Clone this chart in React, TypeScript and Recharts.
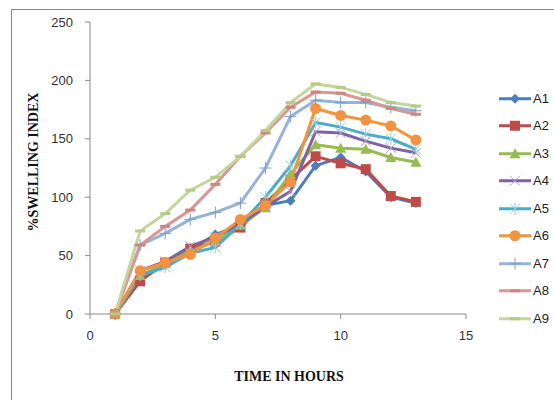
import React from 'react';
import { LineChart, Line, XAxis, YAxis, Legend, Label } from 'recharts';

const hours = [1, 2, 3, 4, 5, 6, 7, 8, 9, 10, 11, 12, 13];
const a1 = [0, 30, 42, 55, 68, 76, 93, 97, 127, 134, 122, 100, 95];
const a2 = [0, 28, 44, 56, 62, 74, 95, 115, 135, 129, 124, 101, 96];
const a3 = [0, 33, 43, 54, 62, 76, 91, 120, 145, 142, 141, 134, 130];
const a4 = [0, 37, 45, 58, 66, 77, 92, 105, 156, 155, 148, 142, 138];
const a5 = [0, 33, 40, 52, 57, 77, 100, 127, 164, 160, 154, 150, 141];
const a6 = [0, 37, 44, 51, 65, 81, 93, 113, 176, 170, 166, 161, 149];
const a7 = [0, 59, 69, 81, 87, 95, 125, 169, 183, 181, 181, 177, 174];
const a8 = [0, 59, 75, 89, 111, 135, 155, 177, 190, 189, 183, 176, 171];
const a9 = [0, 71, 86, 106, 117, 135, 157, 181, 197, 194, 188, 181, 178];

const xTicks = [0, 5, 10, 15];
const yTicks = [0, 50, 100, 150, 200, 250];

type Kind = 'diamond' | 'square' | 'triangle' | 'x' | 'star' | 'circle' | 'plus' | 'dash';

const series: { key: string; color: string; kind: Kind; mark: string }[] = [
  { key: 'A1', color: '#4A7EBB', kind: 'diamond', mark: '#4A7EBB' },
  { key: 'A2', color: '#BE4B48', kind: 'square', mark: '#BE4B48' },
  { key: 'A3', color: '#98B954', kind: 'triangle', mark: '#98B954' },
  { key: 'A4', color: '#7E62A1', kind: 'x', mark: '#B3A2C7' },
  { key: 'A5', color: '#4BACC6', kind: 'star', mark: '#93CDDD' },
  { key: 'A6', color: '#F39240', kind: 'circle', mark: '#F39240' },
  { key: 'A7', color: '#95B3D7', kind: 'plus', mark: '#7F9FCB' },
  { key: 'A8', color: '#D99694', kind: 'dash', mark: '#D08583' },
  { key: 'A9', color: '#C3D69B', kind: 'dash', mark: '#B4CC86' },
];

const values: Record<string, number[]> = { A1: a1, A2: a2, A3: a3, A4: a4, A5: a5, A6: a6, A7: a7, A8: a8, A9: a9 };

const data = hours.map((h, i) => {
  const row: Record<string, number> = { hour: h };
  series.forEach((s) => {
    row[s.key] = values[s.key][i];
  });
  return row;
});

function Marker({ kind, cx, cy, color }: { kind: Kind; cx: number; cy: number; color: string }) {
  if (cx == null || cy == null) return null;
  switch (kind) {
    case 'diamond':
      return <polygon points={`${cx},${cy - 5} ${cx + 5},${cy} ${cx},${cy + 5} ${cx - 5},${cy}`} fill={color} />;
    case 'square':
      return <rect x={cx - 5} y={cy - 5} width={10} height={10} fill={color} />;
    case 'triangle':
      return <polygon points={`${cx},${cy - 5.5} ${cx + 5.5},${cy + 4.5} ${cx - 5.5},${cy + 4.5}`} fill={color} />;
    case 'x':
      return (
        <g stroke={color} strokeWidth={1}>
          <line x1={cx - 5} y1={cy - 5} x2={cx + 5} y2={cy + 5} />
          <line x1={cx - 5} y1={cy + 5} x2={cx + 5} y2={cy - 5} />
        </g>
      );
    case 'star':
      return (
        <g stroke={color} strokeWidth={1}>
          <line x1={cx - 5} y1={cy - 5} x2={cx + 5} y2={cy + 5} />
          <line x1={cx - 5} y1={cy + 5} x2={cx + 5} y2={cy - 5} />
          <line x1={cx} y1={cy - 6} x2={cx} y2={cy + 6} />
        </g>
      );
    case 'circle':
      return <circle cx={cx} cy={cy} r={5.5} fill={color} />;
    case 'plus':
      return (
        <g stroke={color} strokeWidth={1}>
          <line x1={cx - 6} y1={cy} x2={cx + 6} y2={cy} />
          <line x1={cx} y1={cy - 6} x2={cx} y2={cy + 6} />
        </g>
      );
    default:
      return <rect x={cx - 5} y={cy - 1.5} width={10} height={3} fill={color} />;
  }
}

function LegendBox() {
  return (
    <div style={{ width: 57 }}>
      {series.map((s) => (
        <div key={s.key} style={{ display: 'flex', alignItems: 'center', height: 27.5 }}>
          <svg width={36} height={27.5}>
            <line x1={2} y1={13.75} x2={34} y2={13.75} stroke={s.color} strokeWidth={3} />
            <Marker kind={s.kind} cx={18} cy={13.75} color={s.mark} />
          </svg>
          <span style={{ fontSize: 13, color: '#222', fontFamily: '"Liberation Sans", Arial, sans-serif' }}>{s.key}</span>
        </div>
      ))}
    </div>
  );
}

const titleFont = '"Liberation Serif", "Times New Roman", serif';

export default function App() {
  return (
    <div style={{ position: 'absolute', left: 0, top: 0, width: 554, height: 400, overflow: 'hidden', background: '#fff' }}>
      <div
        style={{ position: 'absolute', left: 11, top: 9, width: 600, height: 450, border: '1px solid #8a8a8a' }}
      />
      <div style={{ position: 'absolute', left: 0, top: 0 }}>
        <LineChart width={554} height={400} data={data} margin={{ top: 22, right: 88, left: 0, bottom: 0 }}>
          <XAxis
            dataKey="hour"
            type="number"
            domain={[0, 15]}
            ticks={xTicks}
            height={86}
            tickSize={5}
            tickMargin={12}
            stroke="#8a8a8a"
            tick={{ fill: '#333', fontSize: 13, fontFamily: '"Liberation Sans", Arial, sans-serif' }}
          >
            <Label
              content={() => (
                <text x={289} y={381} textAnchor="middle" fontFamily={titleFont} fontWeight="bold" fontSize={14} fill="#111">
                  TIME IN HOURS
                </text>
              )}
            />
          </XAxis>
          <YAxis
            type="number"
            domain={[0, 250]}
            ticks={yTicks}
            width={90}
            tickSize={5}
            tickMargin={12}
            stroke="#8a8a8a"
            tick={{ fill: '#333', fontSize: 13, fontFamily: '"Liberation Sans", Arial, sans-serif' }}
          >
            <Label
              content={() => (
                <text
                  x={38}
                  y={162}
                  transform="rotate(-90 38 162)"
                  textAnchor="middle"
                  fontFamily={titleFont}
                  fontWeight="bold"
                  fontSize={14}
                  fill="#111"
                >
                  %SWELLING INDEX
                </text>
              )}
            />
          </YAxis>
          <Legend
            layout="vertical"
            align="center"
            verticalAlign="middle"
            wrapperStyle={{ left: 497, top: 84.5, width: 57 }}
            content={() => <LegendBox />}
          />
          {series.map((s) => (
            <Line
              key={s.key}
              dataKey={s.key}
              stroke={s.color}
              strokeWidth={3}
              isAnimationActive={false}
              activeDot={false}
              dot={(p: any) => <Marker key={`${s.key}-${p.index}`} kind={s.kind} cx={p.cx} cy={p.cy} color={s.mark} />}
            />
          ))}
        </LineChart>
      </div>
    </div>
  );
}
